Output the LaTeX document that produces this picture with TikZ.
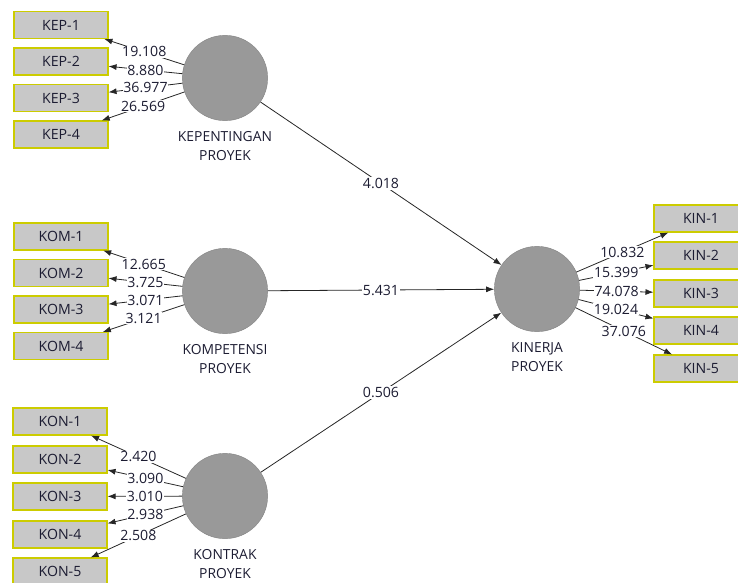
\documentclass[tikz,border=0pt]{standalone}
\usepackage{fontspec}
\setmainfont{Open Sans}
\usetikzlibrary{arrows.meta,positioning}
\definecolor{boxfill}{RGB}{200,200,200}
\definecolor{boxline}{RGB}{204,204,0}
\definecolor{lvfill}{RGB}{153,153,153}
\definecolor{txt}{RGB}{28,28,50}
\tikzset{
  ind/.style={draw=boxline, fill=boxfill, line width=0.8pt, minimum width=70.5pt,
    minimum height=20.25pt, inner sep=0pt, text=txt, font=\fontsize{10.6}{12}\selectfont},
  lv/.style={circle, fill=lvfill, draw=lvfill!85!black, line width=0.3pt,
    minimum size=64pt, inner sep=0pt},
  lvlab/.style={align=center, inner sep=0pt, text=txt, font=\fontsize{10.4}{14.3}\selectfont},
  load/.style={-{Latex[length=6pt,width=4.5pt]}, draw=black!85, line width=0.6pt},
  val/.style={fill=white, inner sep=0.6pt, text=txt, font=\fontsize{10.6}{12}\selectfont},
}
\begin{document}
\begin{tikzpicture}[x=0.75pt,y=-0.75pt]
\useasboundingbox (0,0) rectangle (738,582);
\clip (0,0) rectangle (738,582);
% latent variables
\node[lv] (kep) at (225,78) {};
\node[lv] (kom) at (225,291) {};
\node[lv] (kon) at (225,496) {};
\node[lv] (kin) at (537,289) {};
\node[lvlab, below=8pt of kep] (keplab) {KEPENTINGAN\\PROYEK};
\node[lvlab, below=8pt of kom] (komlab) {KOMPETENSI\\PROYEK};
\node[lvlab, below=8pt of kon] (konlab) {KONTRAK\\PROYEK};
\node[lvlab, below=8pt of kin] (kinlab) {KINERJA\\PROYEK};
% indicators
\foreach \i/\y in {1/25,2/61.5,3/98,4/134.5}
  \node[ind] (kep\i) at (61,\y) {KEP-\i};
\foreach \i/\y in {1/236.5,2/273,3/309.5,4/346}
  \node[ind] (kom\i) at (61,\y) {KOM-\i};
\foreach \i/\y in {1/421.5,2/459.5,3/496.5,4/534.5,5/571.5}
  \node[ind] (kon\i) at (60,\y) {KON-\i};
\foreach \i/\y in {1/218.5,2/255.5,3/293.5,4/330.5,5/368.5}
  \node[ind] (kin\i) at (701,\y) {KIN-\i};
% outer loadings
\foreach \i/\v in {1/19.108,2/8.880,3/36.977,4/26.569}
  \draw[load] (kep) -- node[val]{\v} (kep\i);
\foreach \i/\v in {1/12.665,2/3.725,3/3.071,4/3.121}
  \draw[load] (kom) -- node[val]{\v} (kom\i);
\foreach \i/\v in {1/2.420,2/3.090,3/3.010,4/2.938,5/2.508}
  \draw[load] (kon) -- node[val]{\v} (kon\i);
\foreach \i/\v in {1/10.832,2/15.399,3/74.078,4/19.024,5/37.076}
  \draw[load] (kin) -- node[val]{\v} (kin\i);
% inner model
\draw[load] (kep) -- node[val]{4.018} (kin);
\draw[load] (kom) -- node[val]{5.431} (kin);
\draw[load] (kon) -- node[val]{0.506} (kin);
\end{tikzpicture}
\end{document}
